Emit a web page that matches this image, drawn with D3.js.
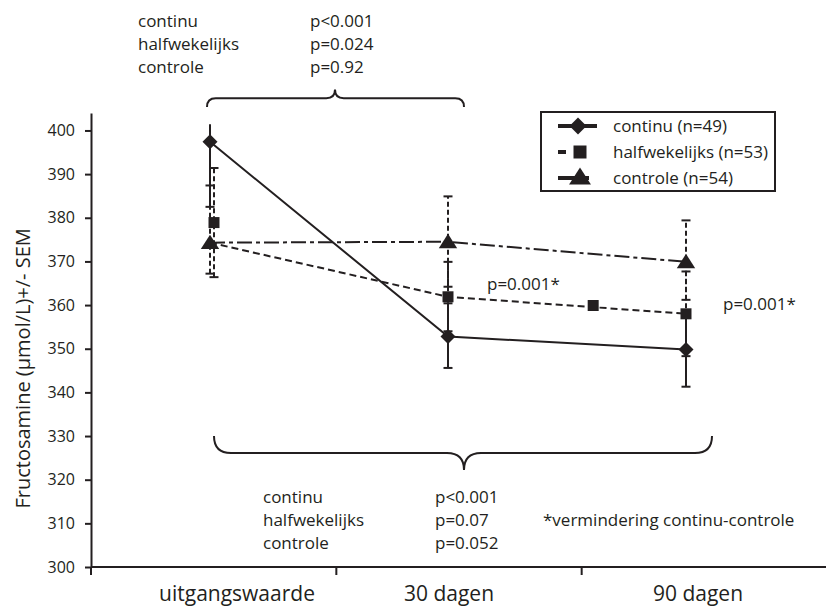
<!DOCTYPE html>
<html>
<head>
<meta charset="utf-8">
<script src="https://cdn.jsdelivr.net/npm/d3@7"></script>
<style>
  body { margin: 0; background: #fff; }
  svg { font-family: "Open Sans", sans-serif; }
</style>
</head>
<body>
<svg class="chart" width="826" height="614"></svg>
<script>
// values
let categories = ['uitgangswaarde', '30 dagen', '90 dagen']
let yTicks = [300, 310, 320, 330, 340, 350, 360, 370, 380, 390, 400]

let continu = [397.4, 352.8, 349.8]
let continuLow = [382.5, 345.6, 341.3]
let continuHigh = [401.4, 360.4, 358.3]

let halfwekelijks = [378.9, 361.9, 358.0]
let halfwekelijksLow = [366.4, 354.0, 348.3]
let halfwekelijksHigh = [391.4, 369.9, 367.7]
// the dotted line leaves the baseline at the controle level in the original
let halfwekelijksLine = [374.3, 361.9, 358.0]
// stray marker on the dotted line between 30 and 90 dagen
let halfwekelijksExtra = [{ pos: 1.61, value: 359.9 }]

let controle = [374.3, 374.5, 369.9]
let controleLow = [367.2, 364.2, 361.2]
let controleHigh = [387.4, 384.9, 379.4]

let legendLabels = ['continu (n=49)', 'halfwekelijks (n=53)', 'controle (n=54)']

let topNotes = [['continu', 'p<0.001'], ['halfwekelijks', 'p=0.024'], ['controle', 'p=0.92']]
let bottomNotes = [['continu', 'p<0.001'], ['halfwekelijks', 'p=0.07'], ['controle', 'p=0.052']]

let ink = '#231f20'
// category labels are not centred on the points in the original
let labelShift = [27, 1, 12]

// marker shapes, drawn around 0,0 (size = half width)
let diamond = { draw: (ctx, r) => { ctx.moveTo(0, -r); ctx.lineTo(r, 0); ctx.lineTo(0, r); ctx.lineTo(-r, 0); ctx.closePath() } }
let square = { draw: (ctx, r) => { ctx.rect(-r, -r, 2 * r, 2 * r) } }
let triangle = { draw: (ctx, r) => { ctx.moveTo(0, -r); ctx.lineTo(r * 1.15, r * 0.8); ctx.lineTo(-r * 1.15, r * 0.8); ctx.closePath() } }

let series = [
  { name: 'continu', values: continu, line: continu, low: continuLow, high: continuHigh, dash: null, shape: diamond, r: 7.5, shift: 0 },
  { name: 'halfwekelijks', values: halfwekelijks, line: halfwekelijksLine, low: halfwekelijksLow, high: halfwekelijksHigh, dash: '7,4', shape: square, r: 5.5, shift: 4 },
  { name: 'controle', values: controle, line: controle, low: controleLow, high: controleHigh, dash: '15,4,4,4', shape: triangle, r: 8, shift: 0 }
]

let svg = d3.select('.chart')

let x = d3.scalePoint().domain(categories).range([210, 686])
let xBand = d3.scaleBand().domain(categories).range([91, 827])
let y = d3.scaleLinear().domain([300, 404]).range([567, 113])

// y axis
let yAxis = svg.append('g').attr('class', 'axis y')
    .attr('transform', 'translate(91,0)')
    .call(d3.axisLeft(y).tickValues(yTicks).tickSize(6).tickSizeOuter(0).tickPadding(10))
yAxis.select('.domain').attr('stroke', ink).attr('stroke-width', 2)
yAxis.selectAll('.tick line').attr('stroke', ink).attr('stroke-width', 2)
yAxis.selectAll('.tick text').attr('fill', ink).attr('font-size', 16).attr('font-family', '"Open Sans", sans-serif')
svg.append('line')
    .attr('x1', 91).attr('x2', 91)
    .attr('y1', y(300)).attr('y2', y(300) + 8)
    .attr('stroke', ink).attr('stroke-width', 2)

svg.append('text')
    .attr('transform', 'rotate(-90)')
    .attr('x', -y(345.5))
    .attr('y', 30)
    .attr('text-anchor', 'middle')
    .attr('font-size', 20)
    .attr('fill', ink)
    .text('Fructosamine (µmol/L)+/- SEM')

// x axis
svg.append('line')
    .attr('x1', 91).attr('x2', 826)
    .attr('y1', y(300)).attr('y2', y(300))
    .attr('stroke', ink).attr('stroke-width', 2)

svg.selectAll('.xtick')
    .data(categories.slice(1))
    .enter()
    .append('line')
    .attr('class', 'xtick')
    .attr('x1', d => xBand(d)).attr('x2', d => xBand(d))
    .attr('y1', y(300)).attr('y2', y(300) + 8)
    .attr('stroke', ink).attr('stroke-width', 2)

svg.selectAll('.xlabel')
    .data(categories)
    .enter()
    .append('text')
    .attr('class', 'xlabel')
    .attr('x', (d, i) => x(d) + labelShift[i])
    .attr('y', y(300) + 34)
    .attr('text-anchor', 'middle')
    .attr('font-size', 21)
    .attr('fill', ink)
    .text(d => d)

let plot = svg.append('g')

// lines
let line = d3.line()
    .x((d, i) => x(categories[i]))
    .y(d => y(d))

plot.selectAll('.series-line')
    .data(series)
    .enter()
    .append('path')
    .attr('class', 'series-line')
    .attr('d', s => line(s.line))
    .attr('fill', 'none')
    .attr('stroke', ink)
    .attr('stroke-width', 2)
    .attr('stroke-dasharray', s => s.dash)

// error bars
series.forEach(s => {
  let bars = s.values.map((v, i) => ({
    cx: x(categories[i]) + (i === 0 ? s.shift : 0),
    low: s.low[i],
    high: s.high[i]
  }))
  let g = plot.append('g').attr('class', 'err ' + s.name)
  g.selectAll('.stem')
      .data(bars)
      .enter()
      .append('line')
      .attr('x1', d => d.cx).attr('x2', d => d.cx)
      .attr('y1', d => y(d.low)).attr('y2', d => y(d.high))
      .attr('stroke', ink).attr('stroke-width', 2)
      .attr('stroke-dasharray', s.dash ? '5,3' : null)
  g.selectAll('.cap')
      .data(bars.flatMap(d => [{ cx: d.cx, v: d.low }, { cx: d.cx, v: d.high }]).filter(d => d.v < 401))
      .enter()
      .append('line')
      .attr('x1', d => d.cx - 4.5).attr('x2', d => d.cx + 4.5)
      .attr('y1', d => y(d.v)).attr('y2', d => y(d.v))
      .attr('stroke', ink).attr('stroke-width', 2)
})

// markers
series.forEach(s => {
  plot.append('g').selectAll('path')
      .data(s.values)
      .enter()
      .append('path')
      .attr('d', d3.symbol().type(s.shape).size(s.r))
      .attr('transform', (d, i) => `translate(${x(categories[i]) + (i === 0 ? s.shift : 0)},${y(d)})`)
      .attr('fill', ink)
})

plot.selectAll('.extra')
    .data(halfwekelijksExtra)
    .enter()
    .append('path')
    .attr('class', 'extra')
    .attr('d', d3.symbol().type(square).size(5.5))
    .attr('transform', d => {
      let i = Math.floor(d.pos)
      return `translate(${x(categories[i]) + (d.pos - i) * x.step()},${y(d.value)})`
    })
    .attr('fill', ink)

// p-value labels next to the curves
svg.append('text')
    .attr('x', x(categories[1]) + 39).attr('y', y(363.5))
    .attr('font-size', 17).attr('fill', ink)
    .text('p=0.001*')
svg.append('text')
    .attr('x', x(categories[2]) + 37).attr('y', y(358.8))
    .attr('font-size', 17).attr('fill', ink)
    .text('p=0.001*')

// braces
function brace(x1, x2, yEdge, yLine, yTip, xTip) {
  let r = Math.abs(yLine - yEdge)
  return `M${x1},${yEdge} Q${x1},${yLine} ${x1 + r},${yLine} L${xTip - r},${yLine} Q${xTip},${yLine} ${xTip},${yTip}` +
         ` Q${xTip},${yLine} ${xTip + r},${yLine} L${x2 - r},${yLine} Q${x2},${yLine} ${x2},${yEdge}`
}

svg.append('path')
    .attr('d', brace(x(categories[0]) - 3, 464, y(405.4), y(407.4), y(409.4), 335))
    .attr('fill', 'none').attr('stroke', ink).attr('stroke-width', 2)

svg.append('path')
    .attr('d', brace(x(categories[0]) + 4, 712, y(330), y(326.1), y(322.2), 464))
    .attr('fill', 'none').attr('stroke', ink).attr('stroke-width', 2)

// note blocks
function notes(rows, x1, x2, top) {
  let g = svg.append('g')
  rows.forEach((r, i) => {
    g.append('text').attr('x', x1).attr('y', top + i * 23)
        .attr('font-size', 17).attr('fill', ink).text(r[0])
    g.append('text').attr('x', x2).attr('y', top + i * 23)
        .attr('font-size', 17).attr('fill', ink).text(r[1])
  })
}
notes(topNotes, 138, 310, 27)
notes(bottomNotes, 263, 435, 503)

svg.append('text')
    .attr('x', 543).attr('y', 526)
    .attr('font-size', 17).attr('fill', ink)
    .text('*vermindering continu-controle')

// legend
let legend = svg.append('g').attr('transform', 'translate(541,112)')
legend.append('rect')
    .attr('width', 234).attr('height', 79)
    .attr('fill', '#fff').attr('stroke', ink).attr('stroke-width', 2)

series.forEach((s, i) => {
  let row = legend.append('g').attr('transform', `translate(0,${14 + i * 26})`)
  let end = s.name === 'continu' ? 56 : s.name === 'controle' ? 48 : 25
  row.append('line').attr('x1', 17).attr('x2', end).attr('y1', 0).attr('y2', 0)
      .attr('stroke', ink).attr('stroke-width', 4)
  row.append('path')
      .attr('d', d3.symbol().type(s.shape).size(s.name === 'controle' ? 9.5 : s.r + 1))
      .attr('transform', `translate(${s.name === 'continu' ? 37 : 39},${s.name === 'controle' ? -1 : 0})`)
      .attr('fill', ink)
  row.append('text')
      .attr('x', 72).attr('y', 6)
      .attr('font-size', 17).attr('fill', ink)
      .text(legendLabels[i])
})
</script>
</body>
</html>
